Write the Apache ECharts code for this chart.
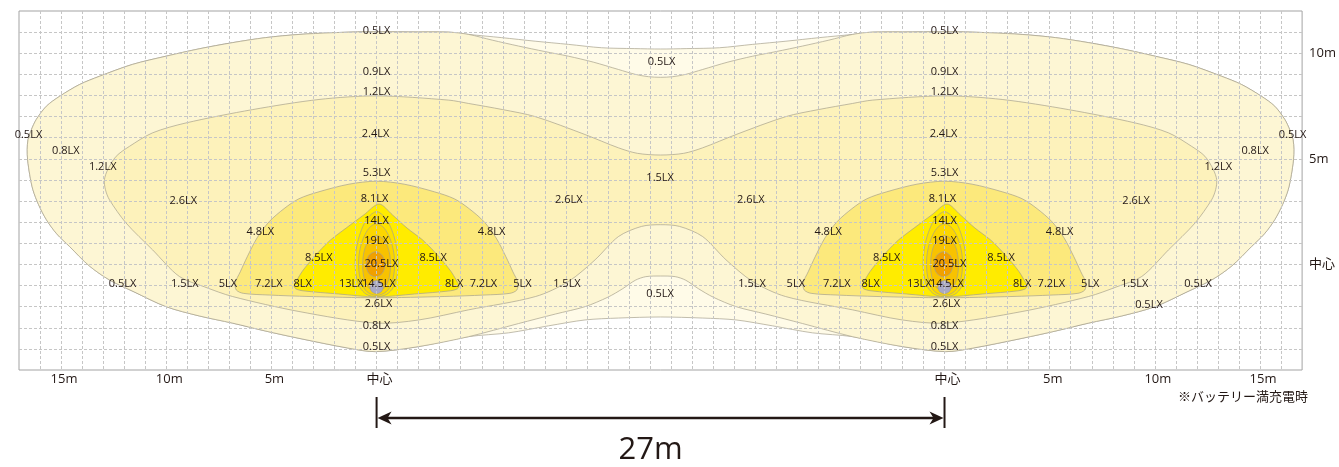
<!DOCTYPE html>
<html><head><meta charset="utf-8">
<script src="https://cdn.jsdelivr.net/npm/echarts@6/dist/echarts.min.js"></script>
<style>html,body{margin:0;padding:0;background:#fff}#c{width:1339px;height:467px}</style>
</head><body><div id="c"></div>
<script>
// ---------- DATA (metres; lamp 1 centre = 0, lamp 2 centre = 27) ----------
const lampCenters = [0, 27];

// combined 0.5 lx envelope
const outer05 = [[-16.61,5.44],[-16.57,5.91],[-16.41,6.38],[-16.18,6.86],[-15.70,7.49],[-15.07,7.96],[-14.12,8.52],[-13.17,8.91],[-11.61,9.47],[-10.01,9.86],[-8.43,10.21],[-6.86,10.50],[-5.27,10.74],[-3.69,10.89],[-2.12,10.97],[-0.52,11.02],[1.53,11.01],[3.43,11.00],[4.38,10.89],[5.94,10.74],[7.54,10.57],[9.12,10.42],[10.70,10.26],[12.25,10.22],[13.50,10.20],[14.75,10.22],[16.30,10.26],[17.88,10.42],[19.46,10.57],[21.06,10.74],[22.62,10.89],[23.57,11.00],[25.47,11.01],[27.52,11.02],[29.12,10.97],[30.69,10.89],[32.27,10.74],[33.86,10.50],[35.43,10.21],[37.01,9.86],[38.61,9.47],[40.17,8.91],[41.12,8.52],[42.07,7.96],[42.70,7.49],[43.18,6.86],[43.41,6.38],[43.57,5.91],[43.61,5.44],[43.59,4.96],[43.49,4.25],[43.34,3.54],[43.07,2.83],[42.70,2.12],[42.21,1.45],[41.60,0.85],[40.66,-0.07],[39.71,-0.73],[38.53,-1.30],[37.01,-2.00],[35.43,-2.44],[33.85,-2.78],[32.30,-3.15],[30.69,-3.50],[28.31,-3.97],[27.05,-4.13],[24.99,-3.89],[22.62,-3.42],[20.72,-3.24],[18.83,-2.91],[17.09,-2.63],[15.50,-2.54],[13.50,-2.49],[11.50,-2.54],[9.91,-2.63],[8.17,-2.91],[6.28,-3.24],[4.38,-3.42],[2.01,-3.89],[-0.05,-4.13],[-1.31,-3.97],[-3.69,-3.50],[-5.30,-3.15],[-6.85,-2.78],[-8.43,-2.44],[-10.01,-2.00],[-11.53,-1.30],[-12.71,-0.73],[-13.66,-0.07],[-14.60,0.85],[-15.21,1.45],[-15.70,2.12],[-16.07,2.83],[-16.34,3.54],[-16.49,4.25],[-16.59,4.96]];

// union of the two single-lamp 0.5 lx contours (0.9 lx band inside)
const union09 = [[-16.61,5.44],[-16.57,5.91],[-16.41,6.38],[-16.18,6.86],[-15.70,7.49],[-15.07,7.96],[-14.12,8.52],[-13.17,8.91],[-11.61,9.47],[-10.01,9.86],[-8.43,10.21],[-6.86,10.50],[-5.27,10.74],[-3.69,10.89],[-2.12,10.97],[-0.52,11.02],[1.53,11.01],[3.43,11.00],[4.38,10.89],[5.5,10.62],[6.75,10.34],[8.0,10.08],[9.12,9.86],[10.3,9.58],[11.5,9.23],[12.3,9.00],[12.92,8.89],[13.5,8.86],[14.08,8.89],[14.7,9.00],[15.5,9.23],[16.7,9.58],[17.88,9.86],[19.0,10.08],[20.25,10.34],[21.5,10.62],[22.62,10.89],[23.57,11.00],[25.47,11.01],[27.52,11.02],[29.12,10.97],[30.69,10.89],[32.27,10.74],[33.86,10.50],[35.43,10.21],[37.01,9.86],[38.61,9.47],[40.17,8.91],[41.12,8.52],[42.07,7.96],[42.70,7.49],[43.18,6.86],[43.41,6.38],[43.57,5.91],[43.61,5.44],[43.59,4.96],[43.49,4.25],[43.34,3.54],[43.07,2.83],[42.70,2.12],[42.21,1.45],[41.60,0.85],[40.66,-0.07],[39.71,-0.73],[38.53,-1.30],[37.01,-2.00],[35.43,-2.44],[33.85,-2.78],[32.30,-3.15],[30.69,-3.50],[28.31,-3.97],[27.05,-4.13],[24.99,-3.89],[22.62,-3.42],[20.25,-2.80],[18.5,-2.35],[17.09,-2.00],[16.0,-1.55],[15.3,-1.15],[14.7,-0.75],[14.2,-0.58],[13.5,-0.55],[12.8,-0.58],[12.3,-0.75],[11.7,-1.15],[11.0,-1.55],[9.91,-2.00],[8.5,-2.35],[6.75,-2.80],[4.38,-3.42],[2.01,-3.89],[-0.05,-4.13],[-1.31,-3.97],[-3.69,-3.50],[-5.30,-3.15],[-6.85,-2.78],[-8.43,-2.44],[-10.01,-2.00],[-11.53,-1.30],[-12.71,-0.73],[-13.66,-0.07],[-14.60,0.85],[-15.21,1.45],[-15.70,2.12],[-16.07,2.83],[-16.34,3.54],[-16.49,4.25],[-16.59,4.96]];

// combined 1.2 lx contour
const contour12 = [[-12.94,4.01],[-12.78,4.49],[-12.38,5.12],[-11.75,5.59],[-10.65,6.23],[-9.06,6.70],[-5.90,7.33],[-2.74,7.81],[0,7.98],[3.43,7.78],[4.38,7.62],[6.0,7.33],[7.54,7.0],[9.91,6.15],[11.50,5.52],[12.4,5.26],[13.5,5.18],[14.6,5.26],[15.50,5.52],[17.09,6.15],[19.46,7.0],[21.0,7.33],[22.62,7.62],[23.57,7.78],[27.0,7.98],[29.74,7.81],[32.90,7.33],[36.06,6.70],[37.65,6.23],[38.75,5.59],[39.38,5.12],[39.78,4.49],[39.94,4.01],[39.89,3.54],[39.70,3.06],[38.91,1.96],[37.65,0.69],[36.38,-0.57],[35.19,-1.06],[33.85,-1.52],[30.69,-2.23],[27.05,-2.78],[24.99,-2.63],[22.62,-2.15],[19.44,-1.52],[17.88,-0.81],[16.61,0.22],[15.50,1.32],[14.40,1.80],[13.5,1.88],[12.60,1.80],[11.50,1.32],[10.39,0.22],[9.12,-0.81],[7.56,-1.52],[4.38,-2.15],[2.01,-2.63],[-0.05,-2.78],[-3.69,-2.23],[-6.85,-1.52],[-8.19,-1.06],[-9.38,-0.57],[-10.65,0.69],[-11.91,1.96],[-12.70,3.06],[-12.89,3.54]];

// single-lamp contours, relative to the lamp centre [dx, y]
const dome53 = [[0,3.94],[1.31,3.80],[2.74,3.44],[3.69,3.11],[4.40,2.64],[5.11,2.02],[5.68,1.26],[6.15,0.36],[6.48,-0.35],[6.72,-0.87],[6.67,-1.21],[6.34,-1.37],[5.11,-1.45],[3.21,-1.52],[0,-1.58],[-3.21,-1.52],[-5.11,-1.45],[-6.34,-1.37],[-6.67,-1.21],[-6.72,-0.87],[-6.48,-0.35],[-6.15,0.36],[-5.68,1.26],[-5.11,2.02],[-4.40,2.64],[-3.69,3.11],[-2.74,3.44],[-1.31,3.80]];
const tri81 = [[0.12,2.86],[0.75,2.35],[1.45,1.72],[2.2,1.15],[2.75,0.60],[3.21,0.08],[3.55,-0.35],[3.78,-0.73],[3.92,-1.00],[3.85,-1.15],[3.5,-1.25],[1.8,-1.40],[0,-1.54],[-1.8,-1.40],[-3.5,-1.25],[-3.85,-1.15],[-3.92,-1.00],[-3.78,-0.73],[-3.55,-0.35],[-3.21,0.08],[-2.75,0.60],[-2.2,1.15],[-1.45,1.72],[-0.6,2.35]];
const ell13 = [[0,2.50],[0.30,2.33],[0.58,1.95],[0.82,1.35],[0.97,0.70],[1.02,0.05],[0.97,-0.55],[0.80,-1.08],[0.48,-1.42],[0,-1.53],[-0.48,-1.42],[-0.80,-1.08],[-0.97,-0.55],[-1.02,0.05],[-0.97,0.70],[-0.82,1.35],[-0.58,1.95],[-0.30,2.33]];
const ell14 = [[0,1.93],[0.30,1.78],[0.55,1.42],[0.75,0.88],[0.85,0.28],[0.84,-0.32],[0.72,-0.88],[0.45,-1.30],[0,-1.47],[-0.45,-1.30],[-0.72,-0.88],[-0.84,-0.32],[-0.85,0.28],[-0.75,0.88],[-0.55,1.42],[-0.30,1.78]];
const ell19 = [[0,1.36],[0.30,1.22],[0.52,0.86],[0.64,0.36],[0.66,-0.18],[0.58,-0.70],[0.38,-1.10],[0,-1.28],[-0.38,-1.10],[-0.58,-0.70],[-0.66,-0.18],[-0.64,0.36],[-0.52,0.86],[-0.30,1.22]];
const ell205 = [[-0.05,0.60],[0.27,0.42],[0.40,0.0],[0.27,-0.42],[-0.05,-0.59],[-0.37,-0.42],[-0.50,0.0],[-0.37,0.42]];
const spot145 = [[0,-0.76],[0.22,-0.85],[0.31,-1.08],[0.22,-1.30],[0,-1.39],[-0.22,-1.30],[-0.31,-1.08],[-0.22,-0.85]];

// labels [x, y, text]
const fieldLabels = [[-16.55,6.14,'0.5LX'],[-14.77,5.40,'0.8LX'],[-13.02,4.62,'1.2LX'],[-9.19,3.03,'2.6LX'],[-12.08,-0.93,'0.5LX'],[-9.12,-0.93,'1.5LX'],
  [13.55,9.60,'0.5LX'],[13.48,4.09,'1.5LX'],[9.14,3.05,'2.6LX'],[17.79,3.05,'2.6LX'],[9.05,-0.92,'1.5LX'],[17.85,-0.92,'1.5LX'],[13.48,-1.39,'0.5LX'],
  [36.11,3.03,'2.6LX'],[36.04,-0.93,'1.5LX'],[39.05,-0.93,'0.5LX'],[36.72,-1.92,'0.5LX'],[40.02,4.62,'1.2LX'],[41.77,5.40,'0.8LX'],[43.55,6.14,'0.5LX']];
// labels relative to each lamp centre [dx, y, text]
const lampLabels = [[0,11.08,'0.5LX'],[0,9.14,'0.9LX'],[0,8.19,'1.2LX'],[-0.05,6.20,'2.4LX'],[0,4.35,'5.3LX'],[-0.1,3.11,'8.1LX'],[0,2.07,'14LX'],[0,1.12,'19LX'],[0.23,0.03,'20.5LX'],[0.11,-0.94,'14.5LX'],[-1.20,-0.93,'13LX'],
  [-2.75,0.30,'8.5LX'],[2.69,0.30,'8.5LX'],[-5.53,1.55,'4.8LX'],[5.47,1.55,'4.8LX'],[-7.07,-0.93,'5LX'],[6.93,-0.93,'5LX'],[-5.12,-0.93,'7.2LX'],[5.08,-0.93,'7.2LX'],[-3.51,-0.93,'8LX'],[3.69,-0.93,'8LX'],
  [0.09,-1.88,'2.6LX'],[0,-2.91,'0.8LX'],[0,-3.91,'0.5LX']];

const xTickValues = [-15,-10,-5,0,27,32,37,42];
const xTickTexts = ['15m','10m','5m','中心','中心','5m','10m','15m'];
const yTickValues = [0,5,10];
const yTickTexts = ['中心','5m','10m'];
const spanText = '27m';
const noteText = '※バッテリー満充電時';

// ---------- STYLES ----------
const fieldFills = ['#fffbe8','#fdf6d4','#fdf2bb'];
const lampFills = ['#fce97c','#ffec00','#fde200','#fcd600','#f8c200','#f0a000','#a9a9c5'];
const lineCol = '#a6a18d';
const textCol = '#231815';

// ---------- BUILD ----------
const drawList = [];
[outer05, union09, contour12].forEach((s,i)=>drawList.push({pts:s, dx:0, fill:fieldFills[i]}));
lampCenters.forEach(c=>[dome53,tri81,ell13,ell14,ell19,ell205,spot145].forEach((s,i)=>drawList.push({pts:s, dx:c, fill:lampFills[i]})));

const labelTexts = [];
const labelItems = [];
fieldLabels.forEach(l=>{labelItems.push([l[0],l[1],labelTexts.length]);labelTexts.push(l[2]);});
lampCenters.forEach(c=>lampLabels.forEach(l=>{labelItems.push([c+l[0],l[1],labelTexts.length]);labelTexts.push(l[2]);}));

const chart = echarts.init(document.getElementById('c'));
chart.setOption({
  animation:false,
  grid:{left:19,right:34,top:11,bottom:97,show:true,borderColor:'#a3a3a3',borderWidth:1,backgroundColor:'transparent'},
  xAxis:{type:'value',min:-17,max:44,interval:1,z:5,
    axisLine:{show:false},axisTick:{show:false},
    splitLine:{show:true,showMinLine:false,showMaxLine:false,lineStyle:{color:'#c6c6c6',width:1,type:[3,2]}},
    axisLabel:{margin:3,color:textCol,fontSize:13,fontFamily:'"Open Sans","Noto Sans CJK JP"',padding:[0,0,0,6],
      formatter:v=>{const i=xTickValues.indexOf(v);return i<0?'':xTickTexts[i];}}},
  yAxis:{type:'value',min:-5,max:12,interval:1,position:'right',z:5,
    axisLine:{show:false},axisTick:{show:false},
    splitLine:{show:true,showMinLine:false,showMaxLine:false,lineStyle:{color:'#c6c6c6',width:1,type:[3,2]}},
    axisLabel:{margin:7,color:textCol,fontSize:13,fontFamily:'"Open Sans","Noto Sans CJK JP"',
      formatter:v=>{const i=yTickValues.indexOf(v);return i<0?'':yTickTexts[i];}}},
  graphic:[{type:'text',right:31,top:390,style:{text:noteText,fill:textCol,font:'13px "Noto Sans CJK JP"'}}],
  series:[
    {type:'custom',coordinateSystem:'cartesian2d',z:2,silent:true,
      dimensions:['x','y','idx'],encode:{x:0,y:1},
      data:drawList.map((d,i)=>[0,0,i]),
      renderItem:(params,api)=>{
        const d=drawList[api.value(2)];
        const pts=d.pts.map(p=>api.coord([p[0]+d.dx,p[1]]));
        return {type:'polygon',shape:{points:pts,smooth:0.3},style:{fill:d.fill,stroke:lineCol,lineWidth:0.7}};
      }},
    {type:'custom',coordinateSystem:'cartesian2d',z:10,silent:true,
      dimensions:['x','y','t'],encode:{x:0,y:1},
      data:labelItems,
      renderItem:(params,api)=>{
        const p=api.coord([api.value(0),api.value(1)]);
        return {type:'text',x:p[0],y:p[1],style:{text:labelTexts[api.value(2)],fill:textCol,font:'500 11px "Open Sans"',align:'center',verticalAlign:'middle'}};
      }},
    {type:'custom',coordinateSystem:'cartesian2d',z:10,silent:true,
      dimensions:['a','b'],encode:{x:0},
      data:[[lampCenters[0],lampCenters[1]]],
      renderItem:(params,api)=>{
        const a=api.coord([api.value(0),-5]);
        const b=api.coord([api.value(1),-5]);
        const base=a[1], ly=base+48;
        return {type:'group',children:[
          {type:'rect',shape:{x:a[0]-1,y:base+27,width:2,height:31},style:{fill:textCol}},
          {type:'rect',shape:{x:b[0]-1,y:base+27,width:2,height:31},style:{fill:textCol}},
          {type:'line',shape:{x1:a[0]+8,y1:ly,x2:b[0]-8,y2:ly},style:{stroke:textCol,lineWidth:2.4}},
          {type:'polygon',shape:{points:[[a[0]+1,ly],[a[0]+15,ly-6.5],[a[0]+11,ly],[a[0]+15,ly+6.5]]},style:{fill:textCol}},
          {type:'polygon',shape:{points:[[b[0]-1,ly],[b[0]-15,ly-6.5],[b[0]-11,ly],[b[0]-15,ly+6.5]]},style:{fill:textCol}},
          {type:'text',x:(a[0]+b[0])/2-10,y:base+80,style:{text:spanText,fill:textCol,font:'31px "Open Sans"',align:'center',verticalAlign:'middle'}}
        ]};
      }}
  ]
});
</script></body></html>
